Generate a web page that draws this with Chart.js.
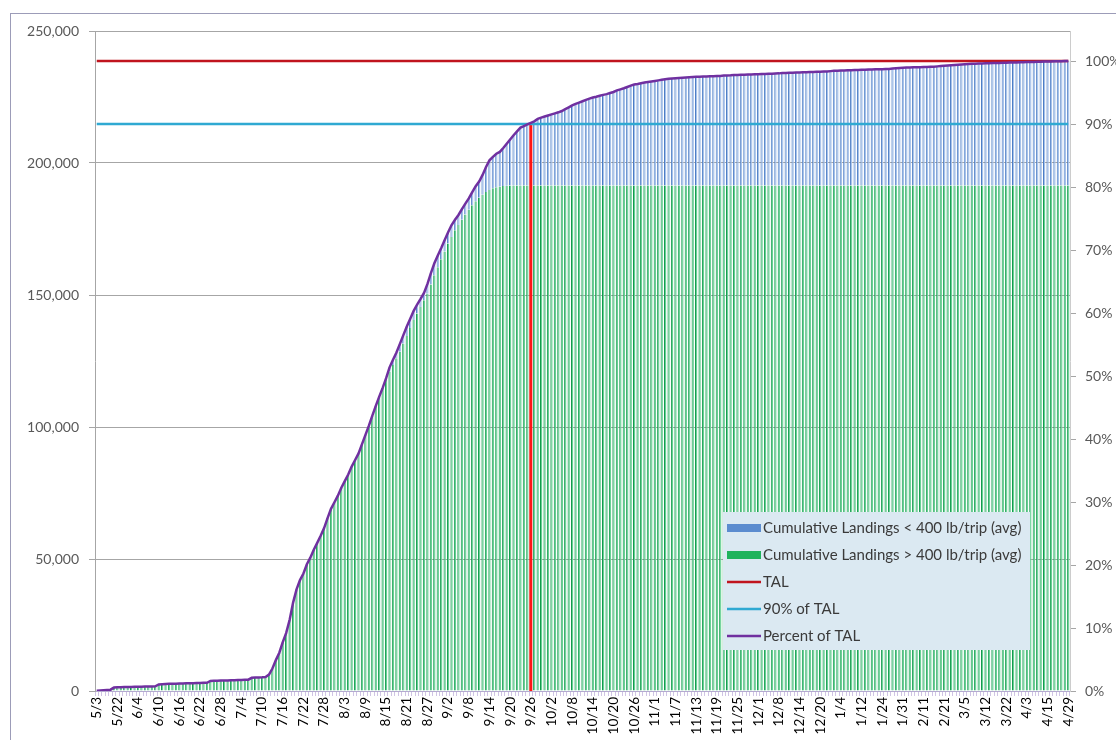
<!DOCTYPE html>
<html>
<head>
<meta charset="utf-8">
<script src="https://cdn.jsdelivr.net/npm/chart.js"></script>
<style>
    body { margin: 0; background: #fff; }
    #frame { position: absolute; left: 10px; top: 13px; width: 1120px; height: 740px; border: 1px solid #9c9cb8; }
    #wrap { position: absolute; left: 0; top: 0; width: 1116px; height: 740px; }
</style>
</head>
<body>
<div id="frame"></div>
<div id="wrap"><canvas id="chart" width="1116" height="740"></canvas></div>
<script>
    // landing dates (one category per day with landings)
    const dates = [
        "5/3", "5/7", "5/10", "5/14", "5/16", "5/19",
        "5/22", "5/24", "5/26", "5/28", "5/31", "6/2",
        "6/4", "6/5", "6/6", "6/7", "6/8", "6/9",
        "6/10", "6/11", "6/12", "6/13", "6/14", "6/15",
        "6/16", "6/17", "6/18", "6/19", "6/20", "6/21",
        "6/22", "6/23", "6/24", "6/25", "6/26", "6/27",
        "6/28", "6/29", "6/30", "7/1", "7/2", "7/3",
        "7/4", "7/5", "7/6", "7/7", "7/8", "7/9",
        "7/10", "7/11", "7/12", "7/13", "7/14", "7/15",
        "7/16", "7/17", "7/18", "7/19", "7/20", "7/21",
        "7/22", "7/23", "7/24", "7/25", "7/26", "7/27",
        "7/28", "7/29", "7/30", "7/31", "8/1", "8/2",
        "8/3", "8/4", "8/5", "8/6", "8/7", "8/8",
        "8/9", "8/10", "8/11", "8/12", "8/13", "8/14",
        "8/15", "8/16", "8/17", "8/18", "8/19", "8/20",
        "8/21", "8/22", "8/23", "8/24", "8/25", "8/26",
        "8/27", "8/28", "8/29", "8/30", "8/31", "9/1",
        "9/2", "9/3", "9/4", "9/5", "9/6", "9/7",
        "9/8", "9/9", "9/10", "9/11", "9/12", "9/13",
        "9/14", "9/15", "9/16", "9/17", "9/18", "9/19",
        "9/20", "9/21", "9/22", "9/23", "9/24", "9/25",
        "9/26", "9/27", "9/28", "9/29", "9/30", "10/1",
        "10/2", "10/3", "10/4", "10/5", "10/6", "10/7",
        "10/8", "10/9", "10/10", "10/11", "10/12", "10/13",
        "10/14", "10/15", "10/16", "10/17", "10/18", "10/19",
        "10/20", "10/21", "10/22", "10/23", "10/24", "10/25",
        "10/26", "10/27", "10/28", "10/29", "10/30", "10/31",
        "11/1", "11/2", "11/3", "11/4", "11/5", "11/6",
        "11/7", "11/8", "11/9", "11/10", "11/11", "11/12",
        "11/13", "11/14", "11/15", "11/16", "11/17", "11/18",
        "11/19", "11/20", "11/21", "11/22", "11/23", "11/24",
        "11/25", "11/26", "11/27", "11/28", "11/29", "11/30",
        "12/1", "12/2", "12/3", "12/4", "12/5", "12/7",
        "12/8", "12/9", "12/10", "12/11", "12/12", "12/13",
        "12/14", "12/15", "12/16", "12/17", "12/18", "12/19",
        "12/20", "12/21", "12/22", "12/23", "12/27", "12/30",
        "1/4", "1/5", "1/6", "1/8", "1/9", "1/10",
        "1/12", "1/14", "1/16", "1/18", "1/20", "1/22",
        "1/24", "1/25", "1/26", "1/27", "1/28", "1/30",
        "1/31", "2/2", "2/4", "2/6", "2/7", "2/9",
        "2/11", "2/13", "2/14", "2/16", "2/18", "2/19",
        "2/21", "2/23", "2/25", "2/27", "3/1", "3/3",
        "3/5", "3/6", "3/7", "3/8", "3/9", "3/10",
        "3/12", "3/13", "3/15", "3/17", "3/19", "3/20",
        "3/22", "3/24", "3/26", "3/28", "3/30", "4/1",
        "4/3", "4/5", "4/7", "4/9", "4/11", "4/13",
        "4/15", "4/17", "4/19", "4/21", "4/23", "4/26",
        "4/29"
    ];

    // cumulative landings, all trips (lb)
    const cumTotal = [
        100, 200, 300, 400, 500, 1300,
        1400, 1450, 1500, 1500, 1550, 1600,
        1600, 1650, 1700, 1700, 1750, 1800,
        2500, 2600, 2650, 2700, 2700, 2750,
        2800, 2850, 2900, 2900, 2950, 3000,
        3050, 3100, 3100, 3800, 3850, 3900,
        3950, 4000, 4000, 4050, 4100, 4150,
        4200, 4250, 4300, 5000, 5100, 5150,
        5200, 5300, 6200, 8500, 11700, 14500,
        18500, 22000, 27000, 33500, 38500, 42000,
        44500, 48000, 50500, 53500, 56100, 58800,
        61700, 65500, 69000, 71500, 74000, 77000,
        79500, 82000, 85000, 87500, 90000, 93500,
        97000, 100500, 104300, 108000, 111500, 114800,
        118500, 122600, 125500, 128200, 131500, 134800,
        138100, 141000, 144000, 146400, 148500, 150800,
        154200, 158300, 162000, 165000, 167800, 170800,
        173800, 176500, 178500, 180300, 182500, 184600,
        186600, 189000, 191200, 193000, 195500, 198500,
        201000, 202300, 203500, 204200, 205700, 207300,
        208900, 210500, 212000, 213400, 214000, 214600,
        215200, 215800, 216700, 217200, 217600, 218000,
        218400, 218800, 219200, 219700, 220400, 221100,
        221800, 222400, 222900, 223400, 223900, 224400,
        224800, 225100, 225500, 225800, 226100, 226500,
        226900, 227500, 227900, 228300, 228800, 229300,
        229700, 229900, 230200, 230500, 230700, 230900,
        231100, 231300, 231500, 231700, 231900, 232000,
        232100, 232200, 232300, 232400, 232500, 232600,
        232650, 232700, 232750, 232800, 232850, 232900,
        232950, 233000, 233100, 233150, 233200, 233300,
        233350, 233400, 233450, 233500, 233550, 233600,
        233650, 233700, 233750, 233800, 233850, 233900,
        233950, 234050, 234100, 234150, 234200, 234250,
        234300, 234350, 234400, 234450, 234500, 234550,
        234600, 234650, 234700, 234800, 234900, 234950,
        235000, 235050, 235100, 235150, 235200, 235250,
        235300, 235350, 235400, 235450, 235500, 235500,
        235550, 235600, 235650, 235800, 235900, 236000,
        236100, 236150, 236200, 236250, 236300, 236300,
        236350, 236400, 236450, 236500, 236600, 236700,
        236800, 236900, 237000, 237100, 237200, 237300,
        237400, 237500, 237550, 237600, 237650, 237700,
        237750, 237800, 237850, 237900, 237900, 237950,
        238000, 238050, 238100, 238100, 238150, 238200,
        238250, 238300, 238300, 238350, 238350, 238400,
        238400, 238450, 238500, 238500, 238550, 238600,
        238600
    ];

    // cumulative landings from trips averaging > 400 lb (lb)
    const cumOver400 = [
        100, 200, 300, 400, 500, 1300,
        1400, 1450, 1500, 1500, 1550, 1600,
        1600, 1650, 1700, 1700, 1750, 1800,
        2500, 2600, 2650, 2700, 2700, 2750,
        2800, 2850, 2900, 2900, 2950, 3000,
        3050, 3100, 3100, 3800, 3850, 3900,
        3950, 4000, 4000, 4050, 4100, 4150,
        4200, 4250, 4300, 5000, 5100, 5150,
        5200, 5300, 6200, 8500, 11700, 14500,
        18500, 22000, 27000, 33500, 38500, 42000,
        44500, 48000, 50500, 53500, 56100, 58800,
        61700, 65500, 69000, 71500, 74000, 77000,
        79500, 82000, 85000, 87500, 90000, 93500,
        97000, 100500, 104300, 108000, 111500, 114800,
        118500, 121000, 123500, 126000, 128500, 131500,
        134500, 137500, 140500, 143000, 145500, 148000,
        150500, 154000, 157500, 160500, 163500, 166500,
        169500, 172000, 174500, 176500, 178500, 180500,
        182300, 184000, 185500, 186800, 188000, 189000,
        189800, 190400, 190800, 191100, 191300, 191400,
        191500, 191500, 191500, 191500, 191500, 191500,
        191500, 191500, 191500, 191500, 191500, 191500,
        191500, 191500, 191500, 191500, 191500, 191500,
        191500, 191500, 191500, 191500, 191500, 191500,
        191500, 191500, 191500, 191500, 191500, 191500,
        191500, 191500, 191500, 191500, 191500, 191500,
        191500, 191500, 191500, 191500, 191500, 191500,
        191500, 191500, 191500, 191500, 191500, 191500,
        191500, 191500, 191500, 191500, 191500, 191500,
        191500, 191500, 191500, 191500, 191500, 191500,
        191500, 191500, 191500, 191500, 191500, 191500,
        191500, 191500, 191500, 191500, 191500, 191500,
        191500, 191500, 191500, 191500, 191500, 191500,
        191500, 191500, 191500, 191500, 191500, 191500,
        191500, 191500, 191500, 191500, 191500, 191500,
        191500, 191500, 191500, 191500, 191500, 191500,
        191500, 191500, 191500, 191500, 191500, 191500,
        191500, 191500, 191500, 191500, 191500, 191500,
        191500, 191500, 191500, 191500, 191500, 191500,
        191500, 191500, 191500, 191500, 191500, 191500,
        191500, 191500, 191500, 191500, 191500, 191500,
        191500, 191500, 191500, 191500, 191500, 191500,
        191500, 191500, 191500, 191500, 191500, 191500,
        191500, 191500, 191500, 191500, 191500, 191500,
        191500, 191500, 191500, 191500, 191500, 191500,
        191500, 191500, 191500, 191500, 191500, 191500,
        191500, 191500, 191500, 191500, 191500, 191500,
        191500
    ];

    const TAL = 238600;          // total allowable landings (lb)
    const TAL_90 = TAL * 0.9;
    const cutoffDate = "9/26";   // date landings passed 90% of TAL

    const FONT = "Lato, 'Open Sans', sans-serif";

    // split into the two stacked pieces and the percent line
    const cumUnder400 = cumTotal.map((v, i) => v - cumOver400[i]);
    const pctOfTal = cumTotal.map(v => v / TAL * 100);

    const legendItems = [
        { text: "Cumulative Landings < 400 lb/trip (avg)", color: "#5b8ccf", box: true },
        { text: "Cumulative Landings > 400 lb/trip (avg)", color: "#1fb35c", box: true },
        { text: "TAL", color: "#c0141e" },
        { text: "90% of TAL", color: "#2fa9d2" },
        { text: "Percent of TAL", color: "#7030a0" }
    ];

    // legend box drawn inside the plot, lower right
    const legendBox = {
        id: "legendBox",
        afterDraw(chart) {
            const ctx = chart.ctx;
            const area = chart.chartArea;
            const x = area.right - 347, y = area.bottom - 179;
            const w = 307, h = 138;
            ctx.save();
            ctx.fillStyle = "#dbe9f2";
            ctx.fillRect(x, y, w, h);
            ctx.font = "15px " + FONT;
            ctx.textBaseline = "middle";
            legendItems.forEach((item, i) => {
                const cy = y + 16 + i * 27;
                if (item.box) {
                    ctx.fillStyle = item.color;
                    ctx.fillRect(x + 4, cy - 4, 34, 8);
                } else {
                    ctx.strokeStyle = item.color;
                    ctx.lineWidth = 2.5;
                    ctx.beginPath();
                    ctx.moveTo(x + 4, cy);
                    ctx.lineTo(x + 38, cy);
                    ctx.stroke();
                }
                ctx.fillStyle = "#3a3a3a";
                ctx.fillText(item.text, x + 40, cy);
            });
            ctx.restore();
        }
    };

    const barStyle = {
        categoryPercentage: 1,
        barPercentage: 0.68,
        borderWidth: { left: 1, right: 0, top: 0, bottom: 0 },
        stack: "landings",
        order: 2
    };

    const lineStyle = {
        type: "line",
        pointRadius: 0,
        fill: false,
        tension: 0,
        order: 0
    };

    new Chart(document.getElementById("chart"), {
        type: "bar",
        data: {
            labels: dates,
            datasets: [
                Object.assign({
                    label: "Cumulative Landings > 400 lb/trip (avg)",
                    data: cumOver400,
                    backgroundColor: "#68d195",
                    borderColor: "#12994c"
                }, barStyle),
                Object.assign({
                    label: "Cumulative Landings < 400 lb/trip (avg)",
                    data: cumUnder400,
                    backgroundColor: "#a6c2ea",
                    borderColor: "#4b7cc4"
                }, barStyle),
                Object.assign({}, lineStyle, {
                    label: "Percent of TAL",
                    data: pctOfTal,
                    yAxisID: "y2",
                    borderColor: "#7030a0",
                    borderWidth: 2.5
                }),
                Object.assign({}, lineStyle, {
                    label: "TAL",
                    data: [{ x: dates[0], y: TAL }, { x: dates[dates.length - 1], y: TAL }],
                    stack: "tal",
                    borderColor: "#c0141e",
                    borderWidth: 2.5,
                    order: 1
                }),
                Object.assign({}, lineStyle, {
                    label: "90% of TAL",
                    data: [{ x: dates[0], y: TAL_90 }, { x: dates[dates.length - 1], y: TAL_90 }],
                    stack: "tal90",
                    borderColor: "#2fa9d2",
                    borderWidth: 2.5,
                    order: 1
                }),
                Object.assign({}, lineStyle, {
                    label: "cutoff",
                    data: [{ x: cutoffDate, y: 0 }, { x: cutoffDate, y: TAL_90 }],
                    stack: "cutoff",
                    borderColor: "#ff1414",
                    borderWidth: 3,
                    order: 1
                })
            ]
        },
        options: {
            responsive: false,
            animation: false,
            layout: { padding: { top: 31, left: 0, right: 0, bottom: 0 } },
            plugins: {
                legend: { display: false },
                tooltip: { enabled: false }
            },
            scales: {
                x: {
                    stacked: true,
                    offset: true,
                    grid: { display: true, drawOnChartArea: false, tickLength: 5, color: "#cfc4e4" },
                    border: { color: "#b4aad0" },
                    ticks: {
                        autoSkip: false,
                        minRotation: 90,
                        maxRotation: 90,
                        padding: 1,
                        color: "#000",
                        font: { family: FONT, size: 13.5 },
                        callback: function (value, index) {
                            return index % 6 === 0 ? this.getLabelForValue(value) : "";
                        }
                    },
                    afterFit: s => { s.height = 49; }
                },
                y: {
                    stacked: true,
                    min: 0,
                    max: 250000,
                    grid: { color: "#a6a6a6", tickLength: 6 },
                    border: { color: "#a6a6a6" },
                    ticks: {
                        stepSize: 50000,
                        padding: 10,
                        color: "#595959",
                        font: { family: FONT, size: 14 },
                        callback: v => v.toLocaleString("en-US")
                    },
                    afterFit: s => { s.width = 95; }
                },
                y2: {
                    position: "right",
                    min: 0,
                    max: 250000 / TAL * 100,
                    grid: { drawOnChartArea: false, tickLength: 6, color: "#a6a6a6" },
                    border: { color: "#cccccc" },
                    ticks: {
                        stepSize: 10,
                        padding: 9,
                        color: "#595959",
                        font: { family: FONT, size: 14 },
                        callback: v => Math.round(v) + "%"
                    },
                    afterBuildTicks: s => { s.ticks = s.ticks.filter(t => t.value <= 100.001); },
                    afterFit: s => { s.width = 46; }
                }
            }
        },
        plugins: [legendBox]
    });
</script>
</body>
</html>
